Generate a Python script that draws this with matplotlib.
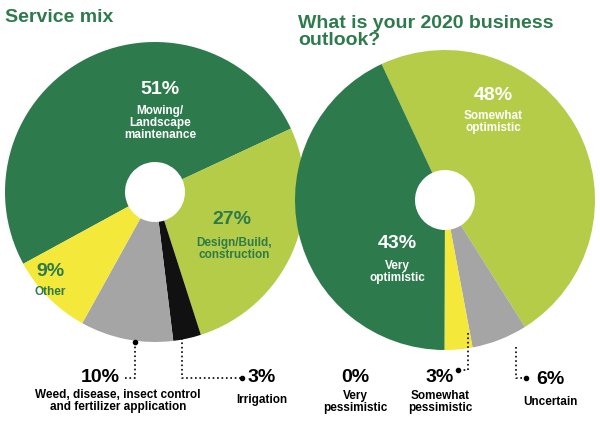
import matplotlib
matplotlib.use("Agg")
import matplotlib.pyplot as plt

W, H = 600, 429
DARK = "#2d7a4c"
LIGHT = "#b4cc48"
YELLOW = "#f4e83a"
GRAY = "#a5a5a5"
FONT = "Liberation Sans"

mix_labels = ["Mowing/Landscape maintenance", "Design/Build, construction", "Irrigation",
              "Weed, disease, insect control and fertilizer application", "Other"]
mix_values = [51, 27, 3, 10, 9]
mix_colors = [DARK, LIGHT, "#111111", GRAY, YELLOW]

outlook_labels = ["Somewhat optimistic", "Uncertain", "Somewhat pessimistic", "Very pessimistic", "Very optimistic"]
outlook_values = [48, 6, 3, 0, 43]
outlook_colors = [LIGHT, GRAY, YELLOW, "#666666", DARK]

fig = plt.figure(figsize=(6, 4.29), dpi=100)


def px(x, y):
    return x / W, 1 - y / H


def pie_axes(cx, cy, r):
    x, y = px(cx - r, cy + r)
    return fig.add_axes([x, y, 2 * r / W, 2 * r / H])


def txt(x, y, s, size=9, color=DARK, ha="center", **kw):
    fig.text(*px(x, y), s, fontsize=size, color=color, ha=ha, va="center",
             fontweight="bold", family=FONT, linespacing=1.0, **kw)


def draw_pie(ax, values, colors, start):
    ax.pie(values, colors=colors, startangle=start, counterclock=False,
           wedgeprops=dict(width=0.8, linewidth=0))
    ax.set_xlim(-1, 1)
    ax.set_ylim(-1, 1)
    ax.set_aspect("equal")
    ax.axis("off")


ax1 = pie_axes(155, 192, 150)
draw_pie(ax1, mix_values, mix_colors, 208.6)
ax2 = pie_axes(445, 200, 150)
draw_pie(ax2, outlook_values, outlook_colors, 115)

txt(5, 17, "Service mix", 14, ha="left")
txt(298, 32, "What is your 2020 business\noutlook?", 14, ha="left")

# left pie labels
txt(160, 90, f"{mix_values[0]}%", 14, "white")
txt(160, 123, "Mowing/\nLandscape\nmaintenance", 8.5, "white")
txt(232, 220, f"{mix_values[1]}%", 14, DARK)
txt(234, 249, "Design/Build,\nconstruction", 8.5, DARK)
txt(50, 272, f"{mix_values[4]}%", 14, DARK)
txt(50, 292, "Other", 8.5, DARK)
txt(100, 378, f"{mix_values[3]}%", 14, "black")
txt(118, 401, "Weed, disease, insect control\nand fertilizer application", 8.5, "black")
txt(262, 378, f"{mix_values[2]}%", 14, "black")
txt(262, 400, "Irrigation", 8.5, "black")

# right pie labels
txt(493, 95, f"{outlook_values[0]}%", 14, "white")
txt(493, 122, "Somewhat\noptimistic", 8.5, "white")
txt(397, 243, f"{outlook_values[4]}%", 14, "white")
txt(397, 272, "Very\noptimistic", 8.5, "white")
txt(355, 378, f"{outlook_values[3]}%", 14, "black")
txt(355, 402, "Very\npessimistic", 8.5, "black")
txt(440, 378, f"{outlook_values[2]}%", 14, "black")
txt(440, 402, "Somewhat\npessimistic", 8.5, "black")
txt(550, 380, f"{outlook_values[1]}%", 14, "black")
txt(550, 402, "Uncertain", 8.5, "black")

# dotted leader lines
lax = fig.add_axes([0, 0, 1, 1])
lax.set_xlim(0, W)
lax.set_ylim(H, 0)
lax.axis("off")
leaders = [
    ([125, 135, 135], [378, 378, 342]),
    ([182, 182, 242], [338, 378, 378]),
    ([468, 468, 458], [333, 370, 370]),
    ([516, 516, 526], [347, 378, 378]),
]
for xs, ys in leaders:
    lax.plot(xs, ys, ls=":", lw=1.2, color="black")
    lax.plot(xs[-1], ys[-1], "o", ms=3, color="black")

fig.savefig("out.png", dpi=100)
